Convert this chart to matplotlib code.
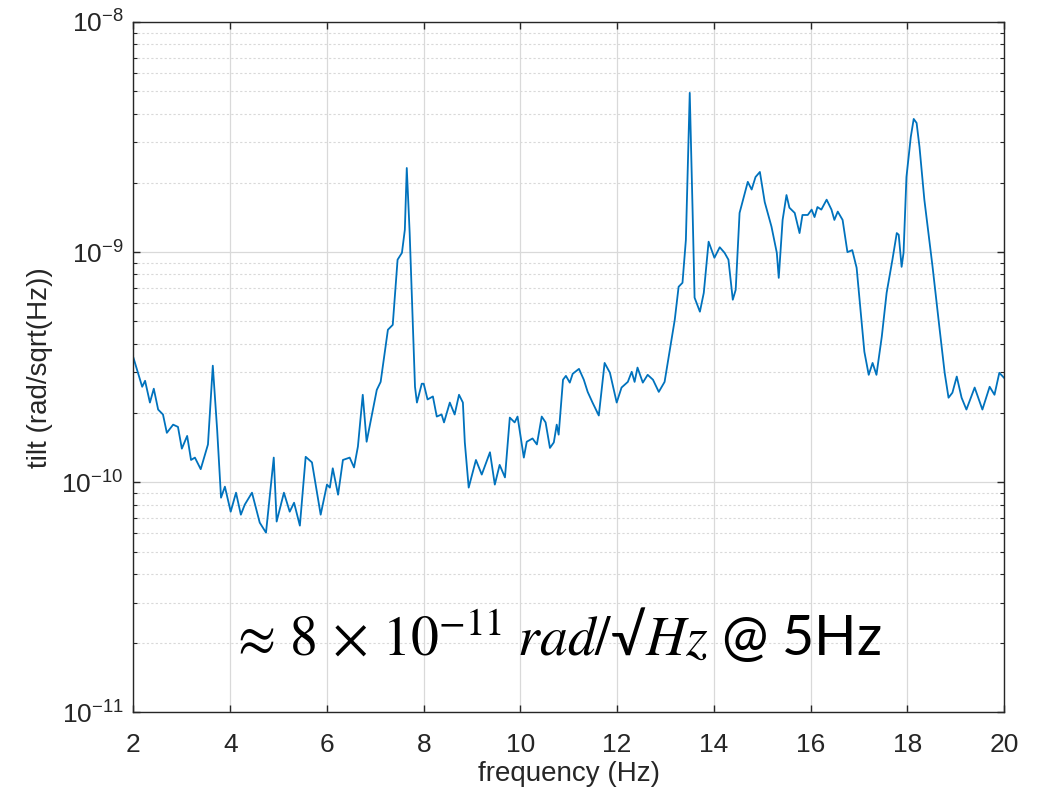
import matplotlib
matplotlib.use("Agg")
import matplotlib.pyplot as plt
from matplotlib.ticker import NullFormatter
import numpy as np

# tilt noise spectrum
freq = [2.00, 2.18, 2.24, 2.34, 2.42, 2.51, 2.61, 2.69, 2.82, 2.92, 3.00, 3.11, 3.19, 3.27,
        3.39, 3.54, 3.64, 3.73, 3.81, 3.89, 4.01, 4.12, 4.22, 4.30, 4.45, 4.61, 4.74, 4.90,
        4.96, 5.11, 5.23, 5.32, 5.44, 5.56, 5.69, 5.87, 6.00, 6.06, 6.12, 6.23, 6.33, 6.47,
        6.56, 6.64, 6.74, 6.82, 7.03, 7.11, 7.26, 7.36, 7.46, 7.55, 7.61, 7.65, 7.71, 7.82,
        7.86, 7.96, 8.00, 8.08, 8.19, 8.27, 8.37, 8.42, 8.54, 8.64, 8.73, 8.81, 8.85, 8.93,
        9.08, 9.20, 9.37, 9.47, 9.57, 9.68, 9.78, 9.88, 9.94, 10.07, 10.13, 10.25, 10.34,
        10.44, 10.52, 10.61, 10.69, 10.75, 10.79, 10.88, 10.94, 11.02, 11.08, 11.21, 11.31,
        11.39, 11.49, 11.62, 11.74, 11.85, 11.99, 12.09, 12.22, 12.30, 12.36, 12.42, 12.53,
        12.63, 12.74, 12.86, 12.98, 13.09, 13.19, 13.27, 13.35, 13.42, 13.50, 13.56, 13.60,
        13.71, 13.79, 13.89, 14.01, 14.12, 14.22, 14.30, 14.39, 14.45, 14.53, 14.64, 14.70,
        14.78, 14.86, 14.95, 15.05, 15.19, 15.30, 15.34, 15.42, 15.50, 15.56, 15.67, 15.77,
        15.83, 15.94, 16.02, 16.08, 16.14, 16.22, 16.33, 16.43, 16.49, 16.56, 16.66, 16.76,
        16.86, 16.95, 17.11, 17.20, 17.28, 17.36, 17.47, 17.57, 17.69, 17.78, 17.82, 17.88,
        17.92, 17.98, 18.07, 18.13, 18.19, 18.25, 18.35, 18.52, 18.66, 18.77, 18.85, 18.93,
        19.02, 19.12, 19.22, 19.39, 19.55, 19.70, 19.80, 19.90, 20.00]
tilt = [3.47e-10, 2.60e-10, 2.76e-10, 2.22e-10, 2.55e-10, 2.07e-10, 1.97e-10, 1.64e-10,
        1.78e-10, 1.74e-10, 1.40e-10, 1.59e-10, 1.25e-10, 1.28e-10, 1.14e-10, 1.46e-10,
        3.21e-10, 1.69e-10, 8.57e-11, 9.57e-11, 7.45e-11, 9.01e-11, 7.23e-11, 7.99e-11,
        9.01e-11, 6.68e-11, 6.04e-11, 1.28e-10, 6.75e-11, 9.01e-11, 7.45e-11, 8.15e-11,
        6.48e-11, 1.29e-10, 1.22e-10, 7.23e-11, 9.77e-11, 9.48e-11, 1.15e-10, 8.83e-11,
        1.25e-10, 1.28e-10, 1.16e-10, 1.43e-10, 2.40e-10, 1.50e-10, 2.52e-10, 2.73e-10,
        4.60e-10, 4.83e-10, 9.27e-10, 9.93e-10, 1.25e-9, 2.32e-9, 1.21e-9, 2.60e-10,
        2.22e-10, 2.68e-10, 2.68e-10, 2.29e-10, 2.36e-10, 1.93e-10, 1.97e-10, 1.82e-10,
        2.22e-10, 1.97e-10, 2.40e-10, 2.22e-10, 1.49e-10, 9.48e-11, 1.25e-10, 1.08e-10,
        1.35e-10, 9.77e-11, 1.19e-10, 1.05e-10, 1.91e-10, 1.82e-10, 1.93e-10, 1.28e-10,
        1.50e-10, 1.55e-10, 1.46e-10, 1.93e-10, 1.82e-10, 1.41e-10, 1.49e-10, 1.78e-10,
        1.61e-10, 2.79e-10, 2.90e-10, 2.71e-10, 2.96e-10, 3.11e-10, 2.79e-10, 2.47e-10,
        2.22e-10, 1.95e-10, 3.30e-10, 2.99e-10, 2.22e-10, 2.58e-10, 2.73e-10, 3.02e-10,
        2.73e-10, 3.15e-10, 2.71e-10, 2.93e-10, 2.79e-10, 2.47e-10, 2.73e-10, 3.77e-10,
        5.08e-10, 7.07e-10, 7.36e-10, 1.13e-9, 4.92e-9, 1.48e-9, 6.34e-10, 5.51e-10,
        6.65e-10, 1.11e-9, 9.45e-10, 1.05e-9, 9.93e-10, 9.27e-10, 6.21e-10, 6.86e-10,
        1.48e-9, 1.81e-9, 2.02e-9, 1.87e-9, 2.12e-9, 2.23e-9, 1.65e-9, 1.29e-9, 9.93e-10,
        7.73e-10, 1.38e-9, 1.77e-9, 1.56e-9, 1.48e-9, 1.21e-9, 1.45e-9, 1.45e-9, 1.53e-9,
        1.42e-9, 1.57e-9, 1.53e-9, 1.69e-9, 1.53e-9, 1.38e-9, 1.50e-9, 1.38e-9, 1.00e-9,
        1.02e-9, 8.55e-10, 3.69e-10, 2.93e-10, 3.30e-10, 2.93e-10, 4.29e-10, 6.65e-10,
        9.27e-10, 1.21e-9, 1.19e-9, 8.63e-10, 9.93e-10, 2.12e-9, 3.17e-9, 3.79e-9, 3.64e-9,
        2.86e-9, 1.69e-9, 8.63e-10, 4.74e-10, 2.99e-10, 2.33e-10, 2.45e-10, 2.88e-10,
        2.33e-10, 2.07e-10, 2.58e-10, 2.07e-10, 2.60e-10, 2.40e-10, 2.99e-10, 2.84e-10]

xticks = [2, 4, 6, 8, 10, 12, 14, 16, 18, 20]

plt.rcParams['mathtext.fontset'] = 'stix'
plt.rcParams['font.family'] = ['Liberation Sans', 'DejaVu Sans']

fig = plt.figure(figsize=(10.46, 7.96), dpi=100)
ax = fig.add_axes([0.1276, 0.105, 0.8324, 0.8674])

ax.plot(freq, tilt, color='#0072BD', lw=1.3)
ax.set_yscale('log')
ax.set_xlim(2, 20)
ax.set_ylim(1e-11, 1e-8)
ax.set_xticks(xticks)
ax.yaxis.set_minor_formatter(NullFormatter())

gray = '#262626'
ax.grid(True, which='major', color='#d9d9d9', lw=0.9, ls='-')
ax.grid(True, which='minor', axis='y', color='#d9d9d9', lw=0.8, ls=(0, (2, 2)))
ax.set_axisbelow(True)

ax.tick_params(which='both', direction='in', top=True, right=True, colors=gray,
               labelsize=19, labelcolor=gray)
ax.tick_params(which='major', length=5, width=1)
ax.tick_params(axis='x', which='major', pad=15)
ax.tick_params(axis='y', which='major', pad=7)
ax.tick_params(which='minor', length=3, width=0.8)
ax.tick_params(axis='x', which='minor', bottom=False, top=False)
for s in ax.spines.values():
    s.set_color(gray)
    s.set_linewidth(1)

ax.set_xlabel('frequency (Hz)', fontsize=20, color=gray, labelpad=3)
ax.set_ylabel('tilt (rad/sqrt(Hz))', fontsize=20, color=gray, labelpad=6)

ax.text(0.11, 0.083, r'$\approx\,8\,\times\,10^{-11}\;rad/$√$Hz$ @ 5Hz',
        transform=ax.transAxes, fontsize=40, color='black',
        family=['Lato', 'DejaVu Sans'], ha='left', va='baseline')

fig.savefig('out.png', dpi=100)
